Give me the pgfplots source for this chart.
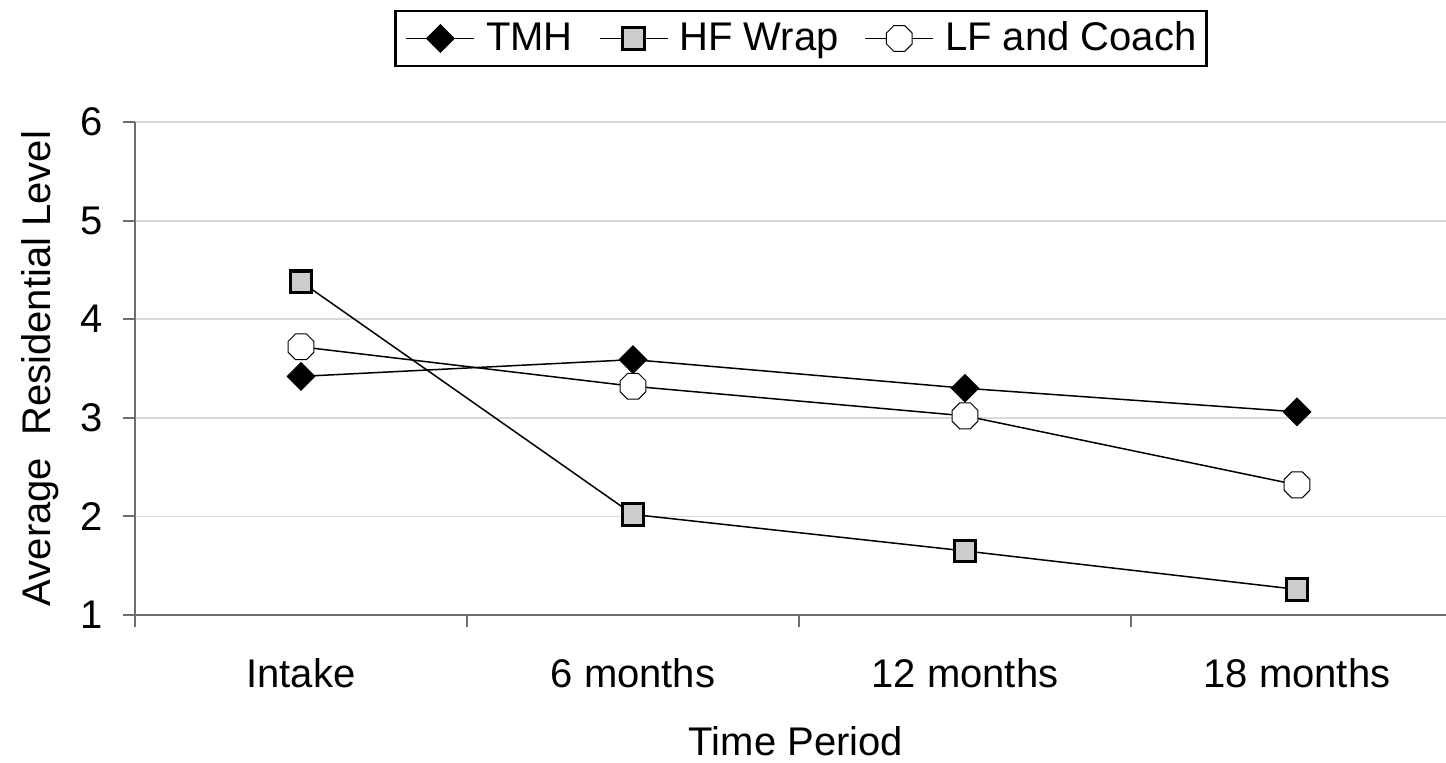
\documentclass[border=0pt]{standalone}
\usepackage{fontspec}
\setmainfont{Liberation Sans}
\usepackage{pgfplots}
\pgfplotsset{compat=1.18}

\pgfdeclareplotmark{octagon}{%
  \pgfpathmoveto{\pgfpointpolar{22.5}{\pgfplotmarksize}}%
  \pgfpathlineto{\pgfpointpolar{67.5}{\pgfplotmarksize}}%
  \pgfpathlineto{\pgfpointpolar{112.5}{\pgfplotmarksize}}%
  \pgfpathlineto{\pgfpointpolar{157.5}{\pgfplotmarksize}}%
  \pgfpathlineto{\pgfpointpolar{202.5}{\pgfplotmarksize}}%
  \pgfpathlineto{\pgfpointpolar{247.5}{\pgfplotmarksize}}%
  \pgfpathlineto{\pgfpointpolar{292.5}{\pgfplotmarksize}}%
  \pgfpathlineto{\pgfpointpolar{337.5}{\pgfplotmarksize}}%
  \pgfpathclose
  \pgfusepathqfillstroke}

\newcommand{\bigf}{\fontsize{20}{24}\selectfont}
\definecolor{gridc}{RGB}{217,217,217}
\definecolor{axc}{RGB}{110,110,110}
\definecolor{hffill}{RGB}{204,204,204}

\begin{document}
\begin{tikzpicture}
\begin{axis}[
  at={(0,0)}, anchor=south west,
  scale only axis,
  width=655.5pt, height=246.5pt,
  xmin=-0.5, xmax=3.4488,
  ymin=1, ymax=6,
  axis x line*=bottom, axis y line*=left,
  axis line style={color=axc, line width=1pt},
  xtick={0,1,2,3},
  xticklabels={Intake,6 months,12 months,18 months},
  major x tick style={draw=none},
  minor xtick={-0.5,0.5,1.5,2.5},
  minor x tick style={color=axc, line width=1pt},
  minor tick length=6pt,
  ytick={1,2,3,4,5,6},
  major y tick style={color=axc, line width=1pt},
  major tick length=6pt,
  tick align=outside,
  ymajorgrids,
  grid style={color=gridc, line width=0.9pt},
  /pgf/number format/assume math mode=true,
  tick label style={font=\bigf},
  xticklabel style={anchor=base, inner sep=0pt, yshift=-30pt},
  yticklabel style={anchor=east, inner sep=0pt, xshift=-10pt},
  every axis x label/.style={at={(axis description cs:0.5042,-0.2840)}, anchor=base, font=\bigf},
  every axis y label/.style={at={(axis description cs:-0.06484,0.5)}, rotate=90, anchor=base, font=\bigf},
  xlabel={Time Period},
  ylabel={Average\ \ Residential\ Level},
  clip=false,
  legend columns=-1,
  legend style={at={(axis description cs:0.508,1.1694)}, anchor=center,
    draw=black, line width=1.25pt, fill=white, font=\bigf,
    inner xsep=5pt, inner ysep=5.5pt,
    nodes={inner sep=0pt, text depth=0.2em},
    /tikz/every odd column/.append style={column sep=5.5pt},
    /tikz/every even column/.append style={column sep=13pt}},
  legend image code/.code={\draw[mark repeat=2,mark phase=2,#1] plot coordinates {(0pt,0pt) (17pt,0pt) (34pt,0pt)};},
]
\addplot[black, line width=0.75pt, mark=square*, mark size=4.9pt,
  mark options={rotate=45, fill=black, draw=black, line width=0.4pt, solid}]
  coordinates {(0,3.42) (1,3.59) (2,3.30) (3,3.06)};
\addlegendentry{TMH}
\addplot[black, line width=0.75pt, mark=square*, mark size=5.4pt,
  mark options={fill=hffill, draw=black, line width=1.6pt, solid}]
  coordinates {(0,4.38) (1,2.02) (2,1.65) (3,1.26)};
\addlegendentry{HF Wrap}
\addplot[black, line width=0.75pt, mark=octagon, mark size=7pt,
  mark options={fill=white, draw=black, line width=0.5pt, solid}]
  coordinates {(0,3.72) (1,3.32) (2,3.02) (3,2.32)};
\addlegendentry{LF and Coach}
\end{axis}
\pgfresetboundingbox
\path (-67.5pt,-73.5pt) rectangle (655.5pt,307.5pt);
\end{tikzpicture}
\end{document}
